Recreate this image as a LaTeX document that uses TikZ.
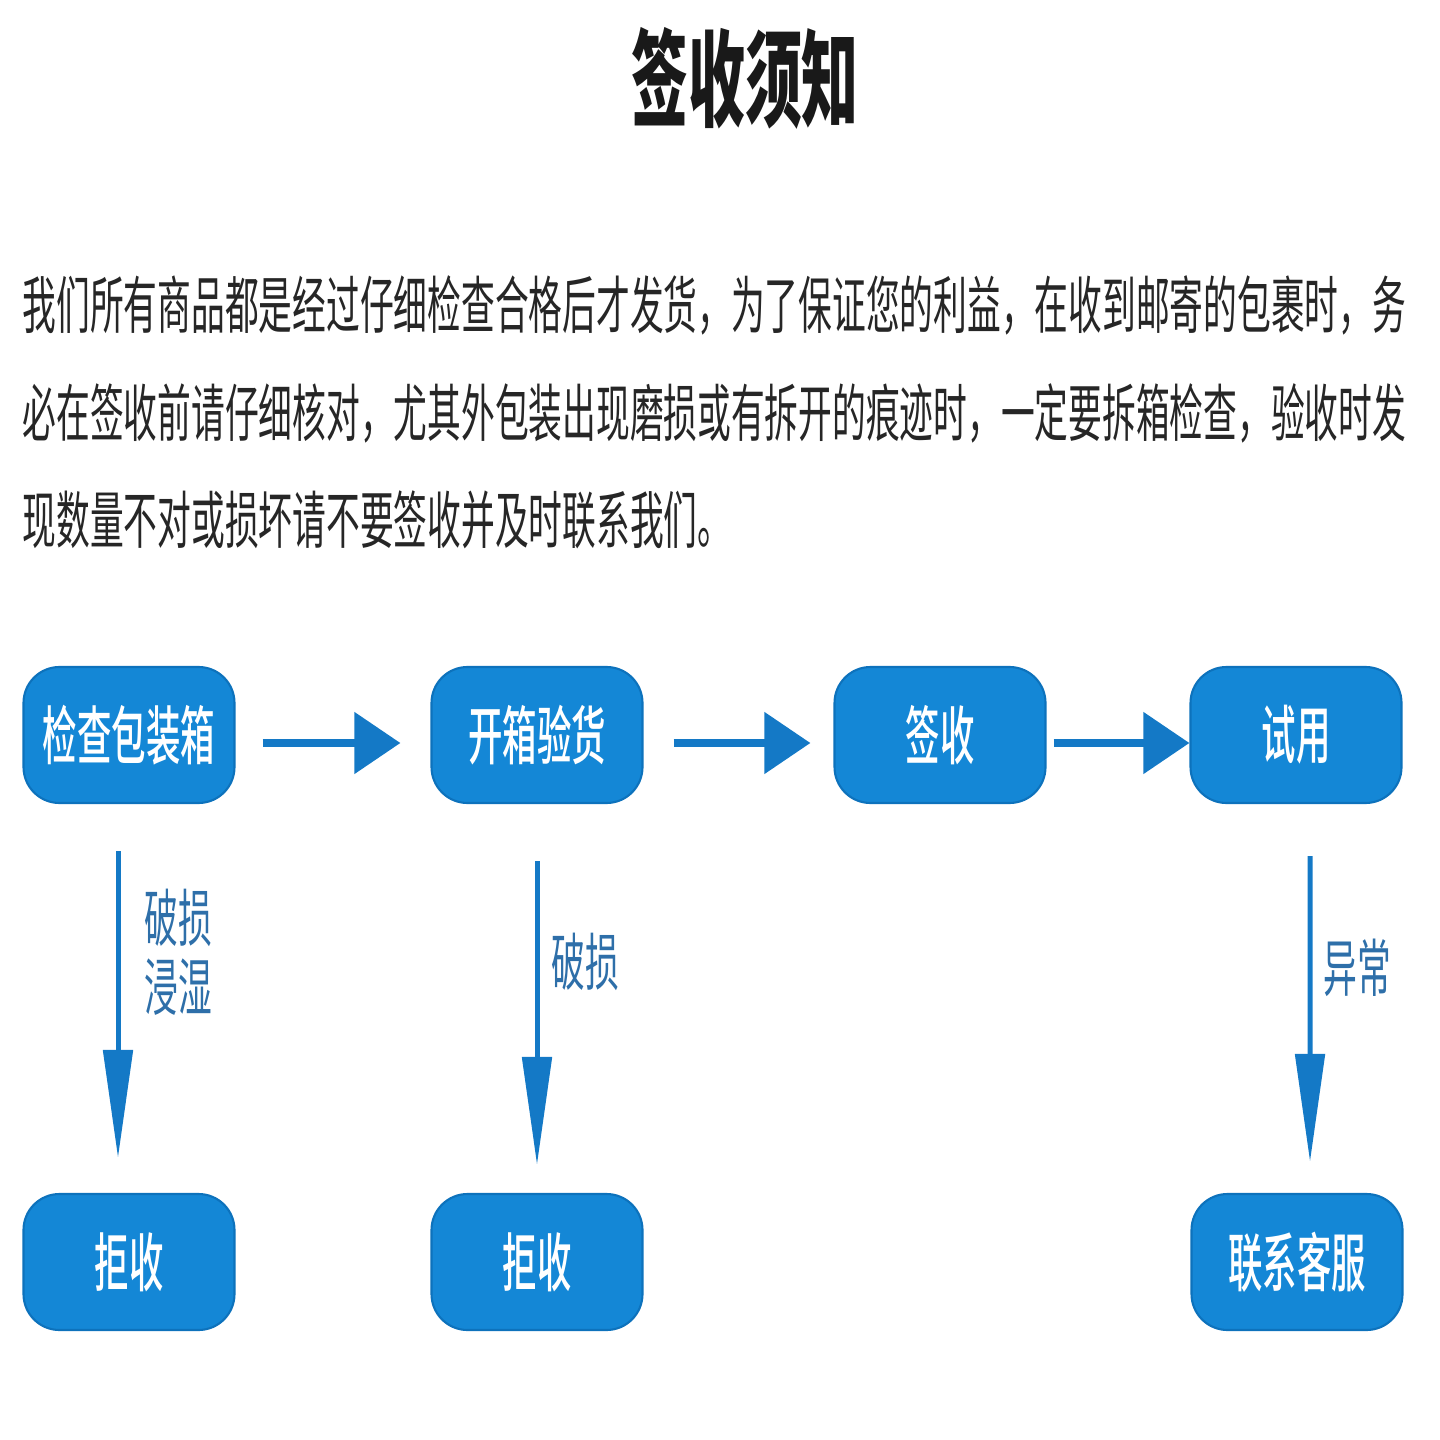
\documentclass[tikz,border=0pt]{standalone}
\usepackage{fontspec}
\usepackage{graphicx}
\usetikzlibrary{arrows.meta}

\newfontfamily\cjk{Noto Sans CJK SC}
\IfFontExistsTF{Noto Sans CJK SC Medium}
    {\newfontfamily\cjkmid{Noto Sans CJK SC Medium}}
    {\newcommand\cjkmid{\cjk\bfseries}}
\newcommand\tall[1]{\scalebox{1}[1.85]{#1}}

\definecolor{boxblue}{HTML}{1487D6}
\definecolor{boxedge}{HTML}{0D72BC}
\definecolor{arrowblue}{HTML}{1479C6}
\definecolor{tagblue}{HTML}{2E6FA9}

\begin{document}
\begin{tikzpicture}[
        x=0.1mm, y=-0.1mm,
        stepbox/.style={
            rectangle,
            draw=boxedge,
            line width=0.6pt,
            fill=boxblue,
            rounded corners=3.6mm,
            minimum width=21.1mm,
            minimum height=13.6mm,
            inner sep=0pt,
            text=white,
            font=\cjkmid\fontsize{9.8}{12}\selectfont
        },
        bodyline/.style={
            anchor=west,
            inner sep=0pt,
            text=black!85,
            font=\cjk\fontsize{9.6}{12}\selectfont
        },
        branchtext/.style={
            inner sep=0pt,
            align=center,
            text=tagblue,
            font=\cjk\fontsize{9.6}{19.6}\selectfont
        },
        flow/.style={
            -{Triangle[length=4.6mm, width=6mm]},
            line width=0.8mm,
            draw=arrowblue
        },
        drop/.style={
            -{Triangle[length=10.8mm, width=2.9mm]},
            line width=0.5mm,
            draw=arrowblue
        }
    ]

    \useasboundingbox (0,0) rectangle (1440,1440);

    % --------------------------------------------------------
    % Title and notice
    % --------------------------------------------------------

    \node[font=\cjk\fontsize{16.2}{20}\selectfont\bfseries, text=black!90] (title)
        at (745,78) {\tall{签收须知}};

    \node[bodyline] (lineA) at (22,305)
        {\tall{我们所有商品都是经过仔细检查合格后才发货，为了保证您的利益，在收到邮寄的包裹时，务}};
    \node[bodyline] (lineB) at (22,413)
        {\tall{必在签收前请仔细核对，尤其外包装出现磨损或有拆开的痕迹时，一定要拆箱检查，验收时发}};
    \node[bodyline] (lineC) at (22,520)
        {\tall{现数量不对或损坏请不要签收并及时联系我们。}};

    % --------------------------------------------------------
    % Steps
    % --------------------------------------------------------

    \node[stepbox] (check)   at (129,735)  {\tall{检查包装箱}};
    \node[stepbox] (unbox)   at (537,735)  {\tall{开箱验货}};
    \node[stepbox] (sign)    at (940,735)  {\tall{签收}};
    \node[stepbox] (trial)   at (1296,735) {\tall{试用}};

    \node[stepbox] (refuseA) at (129,1262)  {\tall{拒收}};
    \node[stepbox] (refuseB) at (537,1262)  {\tall{拒收}};
    \node[stepbox] (service) at (1297,1262) {\tall{联系客服}};

    % --------------------------------------------------------
    % Arrows
    % --------------------------------------------------------

    % Main flow
    \draw[flow, shorten <=2.7mm, shorten >=3mm]
        ([yshift=-0.8mm]check.east) -- ([yshift=-0.8mm]unbox.west);

    \draw[flow, shorten <=3mm, shorten >=2.3mm]
        ([yshift=-0.8mm]unbox.east) -- ([yshift=-0.8mm]sign.west);

    \draw[flow, shorten <=0.7mm]
        ([yshift=-0.8mm]sign.east) -- ([yshift=-0.8mm]trial.west);

    % Branches
    \draw[drop, shorten <=4.7mm, shorten >=3.5mm]
        ([xshift=-1.1mm]check.south) -- ([xshift=-1.1mm]refuseA.north);

    \draw[drop, shorten <=5.7mm, shorten >=2.8mm]
        (unbox.south) -- (refuseB.north);

    \draw[drop, shorten <=5.2mm, shorten >=3.1mm]
        ([xshift=1.4mm]trial.south) -- ([xshift=1.3mm]service.north);

    % Branch labels
    \node[branchtext] (wetTag)    at (178,952)  {\tall{破损}\\\tall{浸湿}};
    \node[branchtext] (brokenTag) at (585,962)  {\tall{破损}};
    \node[branchtext] (oddTag)    at (1357,968) {\tall{异常}};

\end{tikzpicture}
\end{document}
